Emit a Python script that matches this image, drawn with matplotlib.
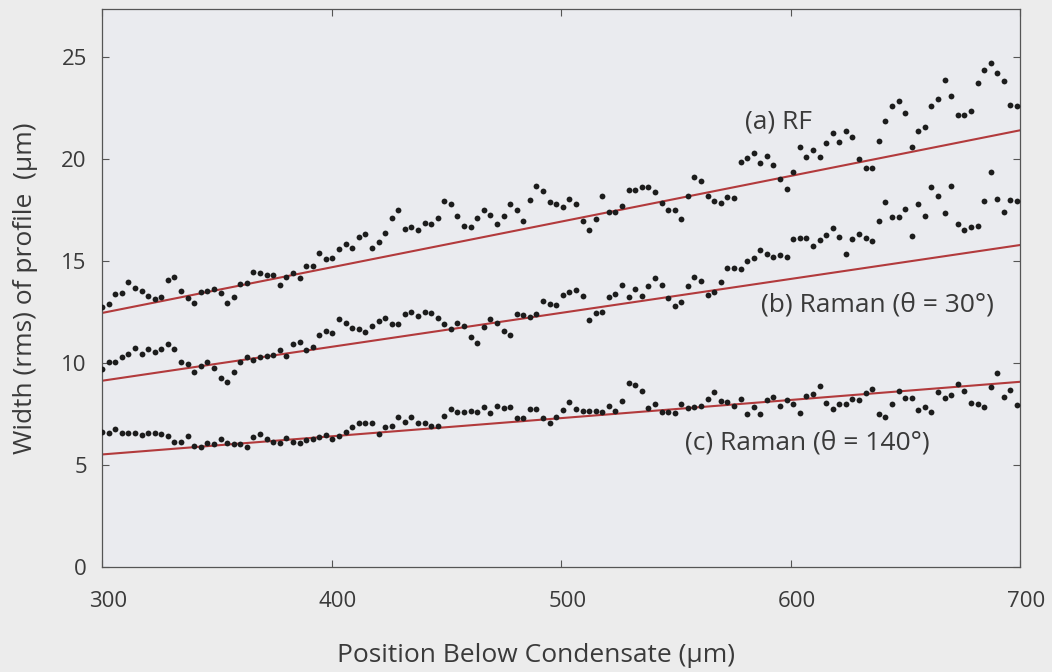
import numpy as np
import matplotlib
matplotlib.use("Agg")
import matplotlib.pyplot as plt
from matplotlib.transforms import ScaledTranslation

# ---- data ----
# (a) RF
rf_width = [
    12.75, 12.88, 13.38, 13.43, 13.99, 13.68, 13.54, 13.30, 13.14, 13.24,
    14.05, 14.20, 13.54, 13.20, 12.96, 13.48, 13.53, 13.63, 13.42, 12.96,
    13.24, 13.87, 13.91, 14.46, 14.40, 14.31, 14.31, 13.82, 14.22, 14.40,
    14.18, 14.75, 14.77, 15.39, 15.11, 15.13, 15.59, 15.85,
    15.65, 16.19, 16.31, 15.65, 15.95, 16.35, 17.08, 17.47, 16.58, 16.68,
    16.49, 16.88, 16.81, 17.09, 17.94, 17.81, 17.21, 16.73, 16.67, 17.08,
    17.47, 17.24, 16.83, 17.21, 17.81, 17.47, 16.93, 17.99, 18.69, 18.43,
    17.88, 17.81, 17.66, 18.05, 17.78, 16.96,
    16.52, 17.04, 18.20, 17.39, 17.39, 17.68, 18.48, 18.45, 18.61, 18.64,
    18.37, 17.86, 17.47, 17.48, 17.06, 18.17, 19.13, 18.89, 18.19, 17.93,
    17.84, 18.14, 18.07, 19.84, 20.02, 20.28, 19.80, 20.16, 19.72, 18.99,
    18.51, 19.35, 20.60, 20.11, 20.44,
    20.08, 20.77, 21.24, 20.82, 21.34, 21.09, 19.98, 19.53, 19.53, 20.85,
    21.86, 22.60, 22.84, 22.25, 20.56, 21.34, 21.58, 22.60, 22.93, 23.86,
    23.09, 22.17, 22.14, 22.35, 23.69, 24.36, 24.67, 24.18, 23.79, 22.63,
    22.60,
]

# (b) Raman, theta = 30 deg
raman30_width = [
    9.71, 10.07, 10.07, 10.28, 10.42, 10.75, 10.42, 10.67, 10.52, 10.67,
    10.95, 10.69, 10.07, 9.93, 9.58, 9.85, 10.03, 9.75, 9.25, 9.07,
    9.56, 10.03, 10.28, 10.15, 10.28, 10.34, 10.39, 10.64, 10.36, 10.93,
    11.05, 10.64, 10.77, 11.39, 11.57, 11.49, 12.14, 11.94, 11.70, 11.65,
    11.54, 11.83, 12.08, 12.19, 11.90, 11.90, 12.40, 12.48, 12.32,
    12.51, 12.45, 12.21, 11.93, 11.68, 11.98, 11.80, 11.27, 10.96,
    11.76, 12.17, 11.98, 11.57, 11.36, 12.39, 12.37, 12.25, 12.42, 13.05,
    12.88, 12.84, 13.35, 13.48, 13.56, 13.28, 12.11, 12.43, 12.48,
    13.25, 13.38, 13.82, 13.25, 13.64, 13.28, 13.79, 14.18, 13.82, 13.17,
    12.79, 12.99,
    13.79, 14.20, 14.00, 13.33, 13.50, 13.99, 14.66, 14.67, 14.59, 14.98,
    15.16, 15.55, 15.33, 15.18, 15.28, 15.21, 16.06, 16.13, 16.13, 15.74,
    16.03, 16.27, 16.63, 16.19, 15.36, 16.06, 16.34, 16.11, 15.96, 16.96,
    17.88, 17.17, 17.14, 17.56, 16.23, 17.81, 17.22, 18.64, 18.19, 17.37,
    18.69, 16.80, 16.50, 16.65, 16.72, 17.91, 19.35, 18.04, 17.40, 17.99,
    17.91,
]

# (c) Raman, theta = 140 deg
raman140_width = [
    6.63, 6.58, 6.76, 6.55, 6.55, 6.55, 6.47, 6.55, 6.55, 6.50,
    6.42, 6.11, 6.11, 6.42, 5.95, 5.87, 6.06, 6.01, 6.26, 6.09,
    6.01, 6.01, 5.88, 6.36, 6.54, 6.26, 6.14, 6.06, 6.31, 6.14,
    6.09, 6.23, 6.27, 6.37, 6.49, 6.29, 6.44, 6.63, 6.86, 7.06,
    7.06, 7.06, 6.50, 6.86, 6.91, 7.35, 7.12, 7.35, 7.07,
    7.04, 6.93, 6.93, 7.42, 7.75, 7.61, 7.61, 7.65, 7.58, 7.86,
    7.53, 7.89, 7.78, 7.83, 7.29, 7.29, 7.73, 7.73, 7.29, 7.04,
    7.37, 7.70, 8.07, 7.73, 7.65, 7.65, 7.65, 7.61, 7.89, 7.65,
    8.14, 9.00, 8.92, 8.64, 7.78, 8.01, 7.61, 7.61, 7.53, 8.01,
    7.78, 7.86, 7.89, 8.24, 8.59, 8.14, 8.10,
    7.89, 8.25, 7.50, 7.86, 7.48, 8.19, 8.35, 7.91, 8.19, 7.97,
    7.53, 8.38, 8.46, 8.89, 8.04, 7.75, 8.01, 8.01, 8.25, 8.19,
    8.51, 8.73, 7.50, 7.34, 7.99, 8.64, 8.28, 8.28, 7.70, 7.86,
    7.60, 8.59, 8.28, 8.43, 8.95, 8.63, 8.05, 7.97, 7.86, 8.84,
    9.49, 8.32, 8.68, 7.94,
]

# sampling positions (um), uniform grid from 300 to ~698
position = np.linspace(300, 698.5, len(rf_width))

# straight-line fits: value at 300 um and at 700 um
fit_x = [300, 700]
fit_rf = [12.45, 21.4]
fit_raman30 = [9.13, 15.78]
fit_raman140 = [5.52, 9.08]

labels = ["(a) RF", "(b) Raman (\u03b8 = 30\u00b0)", "(c) Raman (\u03b8 = 140\u00b0)"]
label_pos = [(580, 21.8), (587, 12.84), (554, 6.08)]

# ---- plot ----
plt.rcParams["font.family"] = ["Open Sans", "DejaVu Sans"]
text_color = "#3a3a3a"
line_red = "#b23a3c"

fig = plt.figure(figsize=(10.52, 6.72), dpi=100, facecolor="#ececec")
ax = fig.add_axes([0.097, 0.156, 0.873, 0.831])
ax.set_facecolor("#eaebef")

for y in (rf_width, raman30_width, raman140_width):
    ax.plot(position, y, "o", color="#1c1c1c", markersize=4.2, markeredgewidth=0, zorder=3)

for fit in (fit_rf, fit_raman30, fit_raman140):
    ax.plot(fit_x, fit, color=line_red, linewidth=1.5, zorder=2)

for txt, (tx, ty) in zip(labels, label_pos):
    ax.text(tx, ty, txt, fontsize=19, color=text_color, ha="left", va="center")

ax.set_xlim(300, 700)
ax.set_ylim(0, 27.35)
ax.set_xticks([300, 400, 500, 600, 700])
ax.set_yticks([0, 5, 10, 15, 20, 25])

ax.tick_params(direction="in", top=True, right=True, length=5, width=0.8,
               color="#555555", labelsize=16, labelcolor=text_color)
ax.tick_params(axis="x", pad=17)
ax.tick_params(axis="y", pad=11)
for spine in ax.spines.values():
    spine.set_color("#555555")
    spine.set_linewidth(0.9)

# tick labels sit a little right of their ticks in the reference
shift = ScaledTranslation(6 / 100, 0, fig.dpi_scale_trans)
for lab in ax.get_xticklabels():
    lab.set_transform(lab.get_transform() + shift)

ax.set_xlabel("Position Below Condensate (\u00b5m)", fontsize=19, color=text_color)
ax.set_ylabel("Width (rms) of profile  (\u00b5m)", fontsize=19, color=text_color)
ax.xaxis.set_label_coords(0.472, -0.135)
ax.yaxis.set_label_coords(-0.07, 0.5)

fig.savefig("out.png", dpi=100, facecolor=fig.get_facecolor())
